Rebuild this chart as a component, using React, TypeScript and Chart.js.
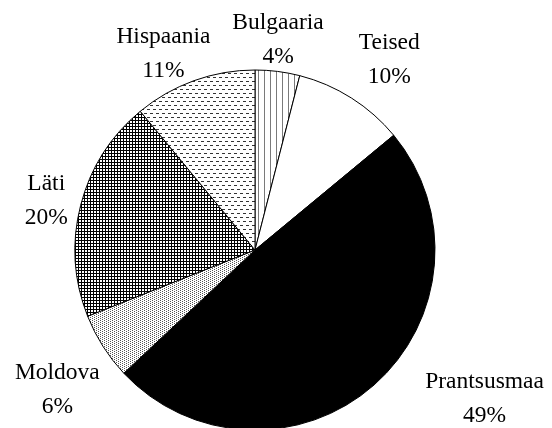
import React, { useEffect, useRef } from "react";
import { Chart, registerables } from "chart.js";

Chart.register(...registerables);

const categories = ["Bulgaaria", "Teised", "Prantsusmaa", "Moldova", "Läti", "Hispaania"];
const shares = [4, 10, 49, 6, 20, 11];
const percentLabels = ["4%", "10%", "49%", "6%", "20%", "11%"];

// label placement nudges (layout only)
const labelNudges: [number, number][] = [
  [-7, 5],
  [14, -7],
  [62, -17],
  [2, 21],
  [0, 3],
  [-10, 8],
];

function makePattern(
  target: CanvasRenderingContext2D,
  w: number,
  h: number,
  draw: (c: CanvasRenderingContext2D) => void
): CanvasPattern | string {
  const tile = document.createElement("canvas");
  tile.width = w;
  tile.height = h;
  const c = tile.getContext("2d")!;
  c.fillStyle = "#ffffff";
  c.fillRect(0, 0, w, h);
  draw(c);
  return target.createPattern(tile, "repeat") || "#ffffff";
}

const labelPlugin = {
  id: "outerLabels",
  afterDatasetsDraw(chart: any) {
    const ctx: CanvasRenderingContext2D = chart.ctx;
    const meta = chart.getDatasetMeta(0);
    ctx.save();
    ctx.font = '23.5px "Liberation Serif", "Times New Roman", serif';
    ctx.fillStyle = "#000000";
    ctx.textAlign = "center";
    ctx.textBaseline = "alphabetic";
    const capH = 16;
    const lineH = 34;
    const gap = 14;
    meta.data.forEach((arc: any, i: number) => {
      const p = arc.getProps(["x", "y", "startAngle", "endAngle", "outerRadius"], true);
      const mid = (p.startAngle + p.endAngle) / 2;
      const ux = Math.cos(mid);
      const uy = Math.sin(mid);
      const lines = [categories[i], percentLabels[i]];
      const w = Math.max(...lines.map((t) => ctx.measureText(t).width));
      const h = capH + lineH;
      const ax = p.x + (p.outerRadius + gap) * ux;
      const ay = p.y + (p.outerRadius + gap) * uy;
      const cx = ax + (w / 2) * ux + labelNudges[i][0];
      const cy = ay + (h / 2) * uy + labelNudges[i][1];
      ctx.fillText(lines[0], cx, cy - h / 2 + capH);
      ctx.fillText(lines[1], cx, cy - h / 2 + capH + lineH);
    });
    ctx.restore();
  },
};

export default function App() {
  const canvasRef = useRef<HTMLCanvasElement | null>(null);

  useEffect(() => {
    const canvas = canvasRef.current;
    if (!canvas) return;
    const ctx = canvas.getContext("2d")!;

    const vertical = makePattern(ctx, 6, 1, (c) => {
      c.fillStyle = "#7a7a7a";
      c.fillRect(0, 0, 1, 1);
    });
    const white = "#ffffff";
    const black = "#000000";
    const dots = makePattern(ctx, 4, 4, (c) => {
      c.fillStyle = "#555555";
      c.fillRect(0, 0, 1, 1);
      c.fillRect(2, 1, 1, 1);
      c.fillRect(0, 2, 1, 1);
      c.fillRect(2, 3, 1, 1);
    });
    const grid = makePattern(ctx, 3, 3, (c) => {
      c.fillStyle = "#000000";
      c.fillRect(0, 0, 3, 1);
      c.fillRect(0, 0, 1, 3);
    });
    const dashes = makePattern(ctx, 6, 8, (c) => {
      c.fillStyle = "#333333";
      c.fillRect(0, 1, 3, 1);
      c.fillRect(3, 5, 3, 1);
    });

    const chart = new Chart(canvas, {
      type: "pie",
      data: {
        labels: categories,
        datasets: [
          {
            data: shares,
            backgroundColor: [vertical, white, black, dots, grid, dashes] as any,
            borderColor: "#000000",
            borderWidth: 1,
            radius: 180,
          } as any,
        ],
      },
      options: {
        responsive: false,
        maintainAspectRatio: false,
        animation: false,
        layout: { padding: { left: 0, right: 42, top: 0, bottom: 0 } },
        plugins: {
          legend: { display: false },
          tooltip: { enabled: false },
        },
      },
      plugins: [labelPlugin],
    });

    return () => {
      chart.destroy();
    };
  }, []);

  return (
    <div
      style={{
        position: "fixed",
        left: 0,
        top: 0,
        width: 552,
        height: 428,
        overflow: "hidden",
        background: "#ffffff",
      }}
    >
      <canvas ref={canvasRef} width={552} height={500} style={{ display: "block" }} />
    </div>
  );
}
